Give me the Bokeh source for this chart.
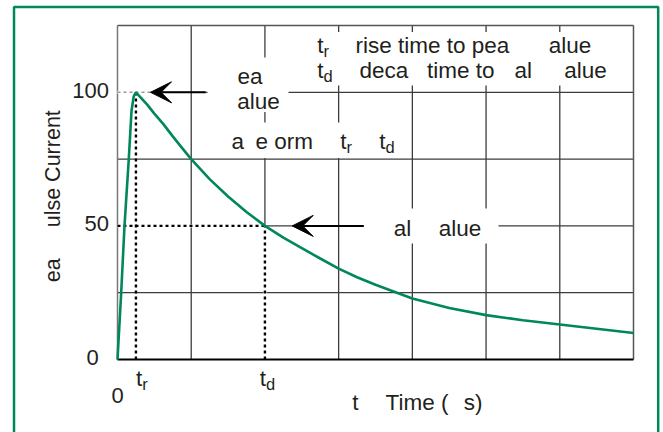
from math import pi
from bokeh.plotting import figure
from bokeh.models import Range1d, Arrow, VeeHead
from bokeh.core.properties import value
from bokeh.embed import file_html
from bokeh.resources import INLINE

# ---- data ----
t_us = [0, 0.05, 0.095, 0.153, 0.19, 0.22, 0.25, 0.3, 0.4, 0.5, 0.625, 0.75, 0.875,
        1.0, 1.25, 1.5, 1.75, 2.0, 2.25, 2.5, 2.75, 3.0, 3.25, 3.5, 4.0, 4.5,
        5.0, 5.5, 6.0, 6.5, 7.0]
current = [0, 25, 50, 75, 93, 98.5, 100, 98.5, 95.5, 92, 88, 83.5, 79.2,
           75, 67.5, 61, 55.2, 50, 45.6, 41.7, 37.8, 34, 30.8, 28, 22.8, 19.3,
           16.6, 14.7, 13.1, 11.5, 9.9]
t_rise = 0.25        # tr
t_decay = 2.0        # td
peak_value = 100
half_value = 50
x_max = 7
y_max = 125
y_ticks = [0, 50, 100]
y_tick_labels = ["0", "50", "100"]
x_grid = [1, 2, 3, 4, 5, 6]
y_grid = [25, 50, 75, 100]

GREEN = "#00875a"
INK = "#231f20"
FONT = "Liberation Sans"
PX_X = 73.714   # screen pixels per x unit
PX_Y = 2.672    # screen pixels per y unit

# scales: plot area spans 0..7 (x) and 0..125 (y); the canvas shows the margins around it
p = figure(width=663, height=432, x_range=Range1d(-1.5872, 7.4070), y_range=Range1d(-27.32, 134.356),
           output_backend="svg", toolbar_location=None, x_axis_type=None, y_axis_type=None,
           min_border=0)
p.background_fill_color = "white"
p.border_fill_color = "white"
p.outline_line_color = None
p.grid.visible = False

# grid lines
p.segment(x0=x_grid, y0=[0] * len(x_grid), x1=x_grid, y1=[y_max] * len(x_grid),
          line_color="#3c3c3c", line_width=1.3)
p.segment(x0=[0] * len(y_grid), y0=y_grid, x1=[x_max] * len(y_grid), y1=y_grid,
          line_color="#3c3c3c", line_width=1.3)
# frame / axis lines
p.segment(x0=[0, x_max], y0=[y_max, 0], x1=[x_max, x_max], y1=[y_max, y_max],
          line_color="#555555", line_width=1.5)
p.segment(x0=[0], y0=[0], x1=[0], y1=[y_max], line_color="#777777", line_width=1.5)

# white boxes behind labels (hide grid lines there)
p.quad(left=[1.221, 1.506, 2.483, 3.337], right=[2.320, 3.839, 6.715, 5.169],
       top=[113.0, 88.7, 122.6, 56.5], bottom=[92.6, 75.4, 102.5, 43.4],
       fill_color="white", line_color=None)

# reference dashed / dotted lines
p.segment(x0=[0, 0, t_decay], y0=[peak_value, half_value, 0],
          x1=[0.448, t_decay, t_decay], y1=[peak_value, half_value, half_value],
          line_color="white", line_width=3)
p.line([0, 0.448], [peak_value, peak_value], line_color="#999999", line_width=1.5, line_dash="3 3")
p.line([0, t_decay], [half_value, half_value], line_color="black", line_width=2.4, line_dash="3 3")
p.line([t_decay, t_decay], [0, half_value], line_color="black", line_width=2.4, line_dash="3 3")
p.line([t_rise, t_rise], [0, peak_value], line_color="black", line_width=2.4, line_dash="3 3")

# x axis line
p.line([0, x_max], [0, 0], line_color="black", line_width=2)

# waveform
p.line(t_us, current, line_color=GREEN, line_width=2.6)

# arrows
for xs, xe, yv in [(1.195, 0.448, peak_value), (3.341, 2.370, half_value)]:
    p.add_layout(Arrow(x_start=xs, y_start=yv, x_end=xe, y_end=yv, line_width=2, line_color="black",
                       end=VeeHead(size=21, fill_color="black", line_color="black", line_width=1)))


def txt(xs, ys, texts, size=22.5, align="left", angle=0.0):
    # compensate the renderer's baseline offset (text otherwise sits lower than its anchor)
    shift = 0.33 * size
    if angle:
        xs = [x - shift / PX_X for x in xs]
    else:
        ys = [y + shift / PX_Y for y in ys]
    p.text(x=xs, y=ys, text=texts, angle=angle, text_font=value(FONT),
           text_font_size=value(f"{size}px"), text_color=INK,
           text_baseline="alphabetic", text_align=align)


# tick labels
txt([-0.254 if v == 0 else -0.115 for v in y_ticks], [v - 1.87 for v in y_ticks], y_tick_labels,
    size=22, align="right")
txt([0], [-16.09], ["0"], size=22, align="center")
txt([t_rise, t_decay - 0.07], [-9.84, -9.84], ["t", "t"])
txt([t_rise + 0.085, t_decay + 0.016], [-11.15, -11.15], ["r", "d"], size=16.5)

# axis titles
txt([3.184, 3.636, 4.698], [-18.83] * 3, ["t", "Time (", "s)"])
txt([-0.783, -0.783], [28.93, 49.48], ["ea", "ulse Current"], size=21.5, angle=pi / 2)

# in-plot texts
txt([2.709, 3.229, 5.851, 2.709, 3.283, 4.199, 5.386, 6.060,
     1.628, 1.624, 1.547, 1.872, 3.021, 3.550, 3.748, 4.359],
    [114.6, 114.6, 114.6, 105.4, 105.4, 105.4, 105.4, 105.4,
     103.0, 93.75, 78.85, 78.85, 78.85, 78.85, 46.4, 46.4],
    ["t", "rise time to pea", "alue", "t", "deca", "time to", "al", "alue",
     "ea", "alue", "a", "e orm", "t", "t", "al", "alue"])
txt([2.795, 2.795, 3.107, 3.636], [113.3, 104.1, 77.55, 77.55], ["r", "d", "r", "d"], size=16.5)

# green frame around the figure (open at the bottom, as in the reference crop)
p.line([-1.404, -1.404, 7.335, 7.335], [-30.3, 131.93, 131.93, -30.3], line_color=GREEN, line_width=2.5)

open("out.html", "w").write(file_html(p, INLINE))
